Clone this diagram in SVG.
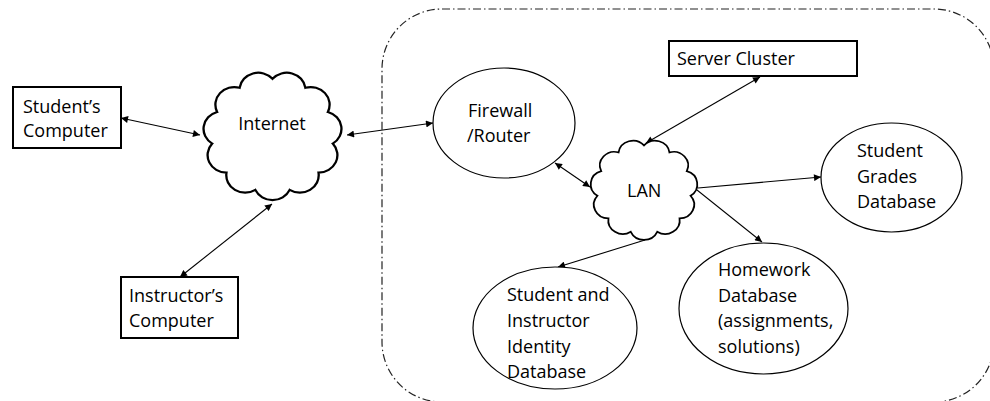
<svg xmlns="http://www.w3.org/2000/svg" width="990" height="401" viewBox="0 0 990 401">
<style>
text{font-family:"Open Sans","Liberation Sans",sans-serif;font-size:18px;fill:#000}
.box{fill:#fff;stroke:#000;stroke-width:2}
.ell{fill:#fff;stroke:#000;stroke-width:1.2}
.cloud{fill:#fff;stroke:#000;stroke-width:1.6}
.conn{stroke:#000;stroke-width:1.1;fill:none}
.bound{fill:none;stroke:#222;stroke-width:1.2;stroke-dasharray:8 3 1.5 3}
</style>
<defs>
<marker id="ah" viewBox="0 0 10 10" refX="10" refY="5" markerWidth="8" markerHeight="7" markerUnits="userSpaceOnUse" orient="auto-start-reverse">
<path d="M0,0 L10,5 L0,10 Z" fill="#000"/>
</marker>
<path id="cloudshape" d="M50,8 A13,13 0 0 1 72.71,14.67 A13,13 0 0 1 88.2,32.55 A13,13 0 0 1 91.57,55.98 A13,13 0 0 1 81.74,77.51 A13,13 0 0 1 61.83,90.3 A13,13 0 0 1 38.17,90.3 A13,13 0 0 1 18.26,77.51 A13,13 0 0 1 8.43,55.98 A13,13 0 0 1 11.8,32.55 A13,13 0 0 1 27.29,14.67 A13,13 0 0 1 50,8 Z"/>
</defs>
<rect id="boundary" class="bound" x="382" y="9" width="612" height="393" rx="60" ry="60"/>
<g id="connectors">
<line class="conn" x1="121" y1="118" x2="200" y2="135" marker-start="url(#ah)" marker-end="url(#ah)"/>
<line class="conn" x1="347" y1="135" x2="433" y2="123" marker-start="url(#ah)" marker-end="url(#ah)"/>
<line class="conn" x1="272" y1="204" x2="180" y2="277" marker-start="url(#ah)" marker-end="url(#ah)"/>
<line class="conn" x1="555" y1="163" x2="590" y2="187" marker-start="url(#ah)" marker-end="url(#ah)"/>
<line class="conn" x1="760" y1="77" x2="646" y2="143" marker-start="url(#ah)" marker-end="url(#ah)"/>
<line class="conn" x1="698" y1="188" x2="821" y2="177" marker-end="url(#ah)"/>
<line class="conn" x1="697" y1="190" x2="762" y2="242" marker-end="url(#ah)"/>
<line class="conn" x1="645" y1="240" x2="558" y2="267" marker-end="url(#ah)"/>
</g>
<g id="students-computer">
<rect class="box" x="13" y="87" width="108" height="61"/>
<text x="23" y="113">Student’s</text>
<text x="23" y="137">Computer</text>
</g>
<g id="internet">
<use href="#cloudshape" class="cloud" transform="translate(200,68) scale(1.45,1.35)" style="vector-effect:non-scaling-stroke"/>
<text x="272" y="130" text-anchor="middle">Internet</text>
</g>
<g id="instructors-computer">
<rect class="box" x="121" y="277" width="117" height="61"/>
<text x="129" y="302">Instructor’s</text>
<text x="129" y="327">Computer</text>
</g>
<g id="firewall">
<ellipse class="ell" cx="504" cy="123" rx="71" ry="55"/>
<text x="468" y="117">Firewall</text>
<text x="467" y="142">/Router</text>
</g>
<g id="server-cluster">
<rect class="box" x="669" y="41" width="188" height="35"/>
<text x="677" y="65">Server Cluster</text>
</g>
<g id="lan">
<use href="#cloudshape" class="cloud" transform="translate(588,137) scale(1.12,1.05)" style="vector-effect:non-scaling-stroke"/>
<text x="627" y="197">LAN</text>
</g>
<g id="grades-db">
<ellipse class="ell" cx="891.5" cy="177.5" rx="70.5" ry="54.5"/>
<text x="857" y="157">Student</text>
<text x="857" y="183">Grades</text>
<text x="857" y="208">Database</text>
</g>
<g id="homework-db">
<ellipse class="ell" cx="763.5" cy="308.5" rx="84.5" ry="65.5"/>
<text x="718" y="276">Homework</text>
<text x="718" y="302">Database</text>
<text x="718" y="327">(assignments,</text>
<text x="718" y="353">solutions)</text>
</g>
<g id="identity-db">
<ellipse class="ell" cx="555" cy="328" rx="82" ry="61"/>
<text x="507" y="301">Student and</text>
<text x="507" y="327">Instructor</text>
<text x="507" y="353">Identity</text>
<text x="507" y="378">Database</text>
</g>
</svg>
